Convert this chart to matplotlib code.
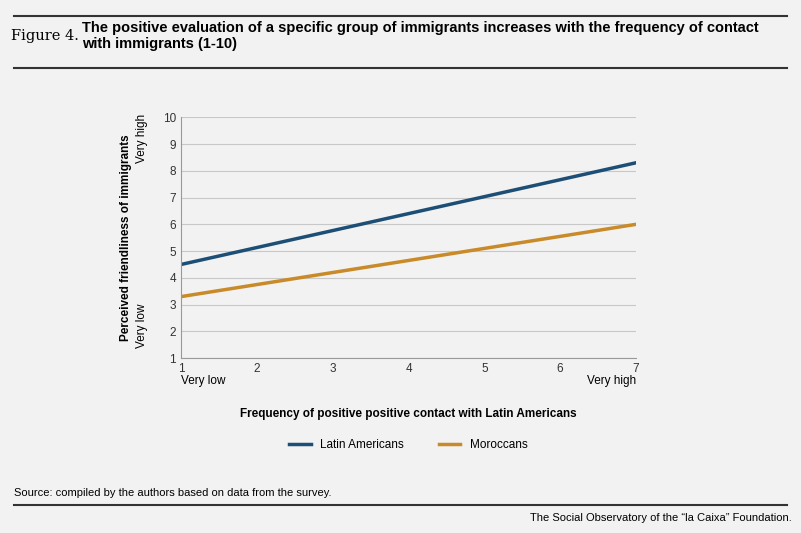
"""
Figure 4: positive evaluation of immigrants vs frequency of contact.
"""

import numpy as np
import matplotlib
import matplotlib.pyplot as plt

matplotlib.rcParams.update({
    "font.family": "Liberation Sans",
    "axes.spines.top": False,
    "axes.spines.right": False,
    "figure.facecolor": "#f2f2f2",
    "axes.facecolor": "#f2f2f2",
})

BLUE = "#1d4f76"
ORANGE = "#c98a2a"


def plot_contact_lines(save_path: str = "out.png") -> plt.Figure:
    """Line chart of perceived friendliness by contact frequency."""
    x = np.array([1, 7])
    latin = np.array([4.5, 8.3])
    moroccan = np.array([3.3, 6.0])

    fig = plt.figure(figsize=(8.01, 5.33), dpi=100)
    ax = fig.add_axes([0.226, 0.328, 0.568, 0.452])

    ax.plot(x, latin, color=BLUE, linewidth=2.5, label="Latin Americans")
    ax.plot(x, moroccan, color=ORANGE, linewidth=2.5, label="Moroccans")

    ax.set_xlim(1, 7)
    ax.set_ylim(1, 10)
    ax.set_xticks(range(1, 8))
    ax.set_yticks(range(1, 11))
    ax.tick_params(labelsize=8.5, length=0, colors="#333333")
    ax.grid(axis="y", color="#c8c8c8", linewidth=0.8)
    ax.set_axisbelow(True)
    for s in ("left", "bottom"):
        ax.spines[s].set_color("#999999")

    ax.text(0, -0.07, "Very low", transform=ax.transAxes,
            fontsize=8.5, va="top", ha="left")
    ax.text(1, -0.07, "Very high", transform=ax.transAxes,
            fontsize=8.5, va="top", ha="right")
    ax.set_xlabel("Frequency of positive positive contact with Latin Americans",
                  fontsize=8.5, fontweight="bold", labelpad=24)

    ax.text(-0.085, 9.2, "Very high", transform=ax.get_yaxis_transform(),
            rotation=90, fontsize=8.5, va="center", ha="center")
    ax.text(-0.085, 2.2, "Very low", transform=ax.get_yaxis_transform(),
            rotation=90, fontsize=8.5, va="center", ha="center")
    ax.set_ylabel("Perceived friendliness of immigrants",
                  fontsize=8.5, fontweight="bold", labelpad=22)

    ax.legend(loc="upper center", bbox_to_anchor=(0.5, -0.29), ncol=2,
              frameon=False, fontsize=8.5, handlelength=1.8, columnspacing=3)

    # header and footer
    fig.add_artist(plt.Line2D([0.018, 0.982], [0.970, 0.970], color="#333333", lw=1.5))
    fig.text(0.014, 0.933, "Figure 4.", fontsize=10.5, family="DejaVu Serif",
             va="center")
    fig.text(0.102, 0.933, "The positive evaluation of a specific group of immigrants "
             "increases with the frequency of contact\nwith immigrants (1-10)",
             fontsize=10.5, fontweight="bold", va="center", linespacing=1.15)
    fig.add_artist(plt.Line2D([0.018, 0.982], [0.872, 0.872], color="#333333", lw=1.5))

    fig.text(0.018, 0.075, "Source: compiled by the authors based on data from the survey.",
             fontsize=8, va="center")
    fig.add_artist(plt.Line2D([0.018, 0.982], [0.052, 0.052], color="#333333", lw=1.5))
    fig.text(0.988, 0.028, "The Social Observatory of the \u201cla Caixa\u201d Foundation.",
             fontsize=8, va="center", ha="right")

    fig.savefig(save_path, dpi=100)
    return fig


if __name__ == "__main__":
    plot_contact_lines("out.png")
